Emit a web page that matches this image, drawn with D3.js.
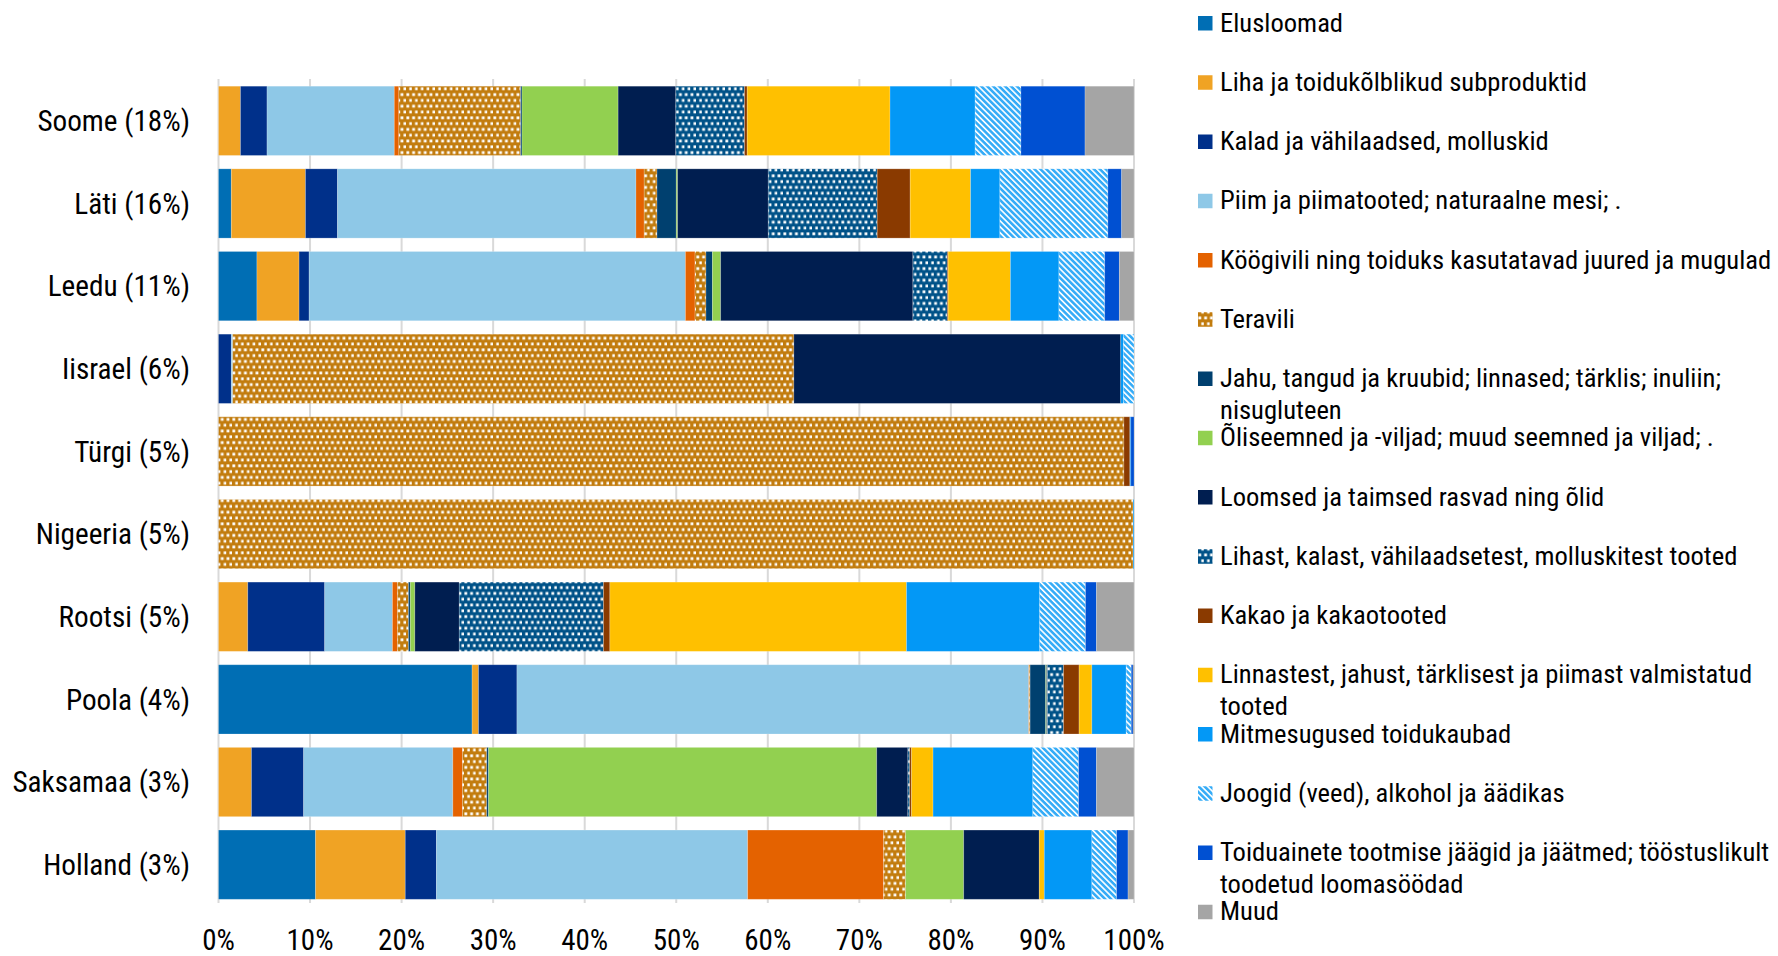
<!DOCTYPE html>
<html>
<head>
<meta charset="utf-8">
<script src="https://cdn.jsdelivr.net/npm/d3@7"></script>
<style>
  html, body { margin: 0; padding: 0; background: #fff; }
  svg { display: block; }
</style>
</head>
<body>
<svg id="chart" width="1778" height="956"></svg>
<script>
// Countries (share of total in brackets), top to bottom
var countries = ["Soome (18%)", "Läti (16%)", "Leedu (11%)", "Iisrael (6%)", "Türgi (5%)",
  "Nigeeria (5%)", "Rootsi (5%)", "Poola (4%)", "Saksamaa (3%)", "Holland (3%)"];

var categories = ["Elusloomad", "Liha ja toidukõlblikud subproduktid", "Kalad ja vähilaadsed, molluskid",
  "Piim ja piimatooted; naturaalne mesi; .", "Köögivili ning toiduks kasutatavad juured ja mugulad",
  "Teravili", "Jahu, tangud ja kruubid; linnased; tärklis; inuliin;\nnisugluteen",
  "Õliseemned ja -viljad; muud seemned ja viljad; .", "Loomsed ja taimsed rasvad ning õlid",
  "Lihast, kalast, vähilaadsetest, molluskitest tooted", "Kakao ja kakaotooted",
  "Linnastest, jahust, tärklisest ja piimast valmistatud\ntooted", "Mitmesugused toidukaubad",
  "Joogid (veed), alkohol ja äädikas",
  "Toiduainete tootmise jäägid ja jäätmed; tööstuslikult\ntoodetud loomasöödad", "Muud"];

// share of each category per country, %, same order as countries
var elusloomad   = [0,    1.4,  4.2,  0,    0,    0,    0,     27.7, 0,    10.6];
var liha         = [2.4,  8.1,  4.6,  0,    0,    0,    3.2,   0.7,  3.6,  9.8];
var kalad        = [2.9,  3.5,  1.1,  1.4,  0,    0,    8.4,   4.2,  5.7,  3.4];
var piim         = [13.9, 32.6, 41.1, 0.15, 0,    0,    7.4,   55.9, 16.3, 34.0];
var kooogivili   = [0.5,  0.9,  1.05, 0,    0,    0,    0.55,  0.05, 1.05, 14.85];
var teravili     = [13.3, 1.4,  1.2,  61.3, 98.9, 99.9, 1.2,   0.1,  2.65, 2.4];
var jahu         = [0.15, 2.1,  0.7,  0,    0,    0,    0.2,   1.7,  0.2,  0];
var oliseemned   = [10.5, 0.15, 0.9,  0,    0,    0,    0.5,   0.1,  42.4, 6.35];
var rasvad       = [6.3,  9.9,  21.0, 35.7, 0,    0,    4.85,  0.1,  3.4,  8.25];
var lihatooted   = [7.5,  11.9, 3.75, 0,    0,    0,    15.75, 1.75, 0.2,  0];
var kakao        = [0.3,  3.6,  0.1,  0,    0.65, 0,    0.7,   1.7,  0.2,  0];
var linnastest   = [15.6, 6.6,  6.8,  0,    0,    0,    32.4,  1.4,  2.35, 0.55];
var mitmesugused = [9.3,  3.2,  5.3,  0.3,  0.1,  0.1,  14.55, 3.75, 10.9, 5.2];
var joogid       = [5.0,  11.8, 5.0,  1.15, 0,    0,    5.0,   0.55, 5.0,  2.7];
var jaagid       = [7.0,  1.5,  1.6,  0,    0.35, 0,    1.2,   0.2,  1.95, 1.25];
var muud         = [5.35, 1.35, 1.6,  0,    0,    0,    4.1,   0.15, 4.1,  0.65];

var xTicks = [0, 10, 20, 30, 40, 50, 60, 70, 80, 90, 100];

var series = [elusloomad, liha, kalad, piim, kooogivili, teravili, jahu, oliseemned,
  rasvad, lihatooted, kakao, linnastest, mitmesugused, joogid, jaagid, muud];

var colors = ["#006eb4", "#f0a324", "#00308a", "#8ec8e7", "#e46200", "#c27c0e", "#00406f", "#92d050",
  "#001e50", "#005288", "#8a3a00", "#ffc000", "#0398f6", "#36acf7", "#0050d2", "#a5a5a5"];
// which categories get a pattern instead of a flat fill
var patterns = { 5: "dots", 9: "dots", 13: "diag" };

var svg = d3.select("#chart");
var font = "'Roboto Condensed', Roboto, sans-serif";

var x = d3.scaleLinear().domain([0, 100]).range([218.5, 1134]);
var y = d3.scaleBand().domain(countries).range([79.5, 906]).paddingInner(0.162).paddingOuter(0.081);

// Excel style fill patterns
var defs = svg.append("defs");
function fillFor(i) {
  if (!patterns[i]) return colors[i];
  var id = "pat" + i;
  if (patterns[i] === "dots") {
    // staggered rows of small white squares
    var p = defs.append("pattern").attr("id", id).attr("patternUnits", "userSpaceOnUse")
      .attr("width", 5.8).attr("height", 11.6);
    p.append("rect").attr("width", 5.8).attr("height", 11.6).attr("fill", colors[i]);
    p.append("rect").attr("x", 0.4).attr("y", 0.4).attr("width", 2.8).attr("height", 2.8).attr("fill", "#fff");
    p.append("rect").attr("x", 3.3).attr("y", 6.2).attr("width", 2.8).attr("height", 2.8).attr("fill", "#fff");
  } else {
    var q = defs.append("pattern").attr("id", id).attr("patternUnits", "userSpaceOnUse")
      .attr("width", 4.2).attr("height", 4.2).attr("patternTransform", "rotate(-45)");
    q.append("rect").attr("width", 4.2).attr("height", 4.2).attr("fill", colors[i]);
    q.append("rect").attr("x", 0).attr("width", 1.6).attr("height", 4.2).attr("fill", "#fff");
  }
  return "url(#" + id + ")";
}
var fills = colors.map(function(c, i) { return fillFor(i); });

// gridlines
svg.append("g").selectAll("line").data(xTicks).join("line")
  .attr("x1", function(d) { return x(d); }).attr("x2", function(d) { return x(d); })
  .attr("y1", 79).attr("y2", 903)
  .attr("stroke", "#d9d9d9").attr("stroke-width", 2);

// stacked bars
var rows = countries.map(function(c, ci) {
  var r = { country: c };
  categories.forEach(function(k, ki) { r[k] = series[ki][ci]; });
  return r;
});
var stacked = d3.stack().keys(categories)(rows);

svg.append("g").selectAll("g").data(stacked).join("g")
  .attr("fill", function(d, i) { return fills[i]; })
  .selectAll("rect").data(function(d) { return d; }).join("rect")
    .attr("x", function(d) { return x(d[0]); })
    .attr("width", function(d) { return Math.max(0, x(d[1]) - x(d[0])); })
    .attr("y", function(d) { return y(d.data.country); })
    .attr("height", y.bandwidth())
    .attr("stroke", "#fff").attr("stroke-opacity", 0.25).attr("stroke-width", 0.8);

// country labels
svg.append("g").selectAll("text").data(countries).join("text")
  .attr("x", 190).attr("y", function(d) { return y(d) + y.bandwidth() / 2; })
  .attr("dy", "0.35em").attr("text-anchor", "end")
  .attr("font-family", font).attr("font-size", 29.2).attr("fill", "#000")
  .text(function(d) { return d; });

// x axis labels
svg.append("g").selectAll("text").data(xTicks).join("text")
  .attr("x", function(d) { return x(d); }).attr("y", 950)
  .attr("text-anchor", "middle")
  .attr("font-family", font).attr("font-size", 29).attr("fill", "#000")
  .text(function(d) { return d + "%"; });

// legend
var legend = svg.append("g").selectAll("g").data(categories).join("g")
  .attr("transform", function(d, i) { return "translate(1198," + (31.5 + i * 59.25) + ")"; });
legend.append("rect").attr("x", 0).attr("y", -15.5).attr("width", 14.5).attr("height", 14.5)
  .attr("fill", function(d, i) { return fills[i]; });
legend.append("text")
  .attr("font-family", font).attr("font-size", 26.6).attr("fill", "#000")
  .selectAll("tspan").data(function(d) { return d.split("\n"); }).join("tspan")
    .attr("x", 22).attr("y", function(d, i) { return i * 32; })
    .text(function(d) { return d; });
</script>
</body>
</html>
